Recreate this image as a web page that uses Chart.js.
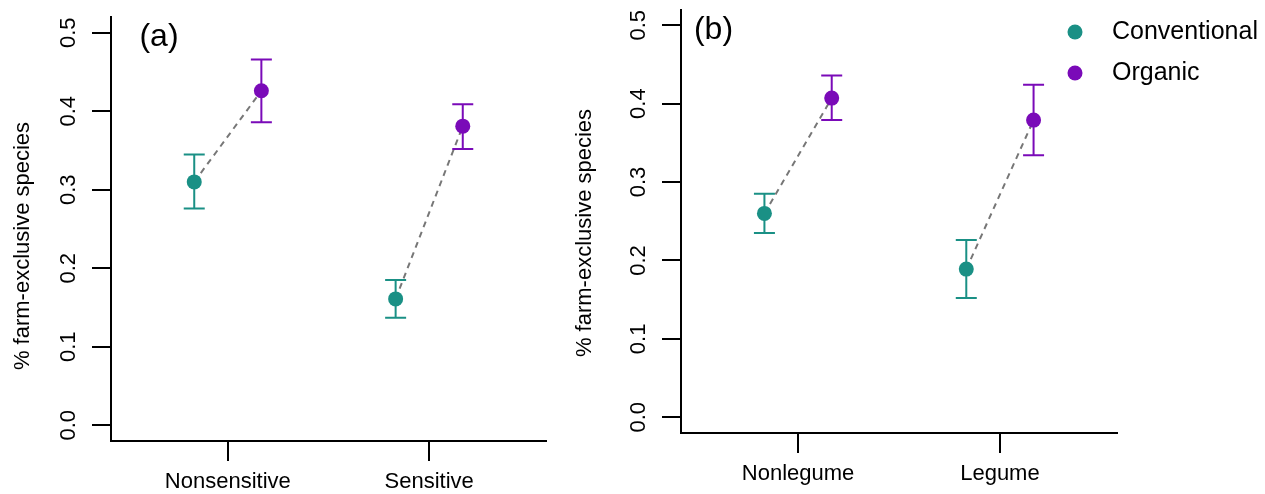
<!DOCTYPE html>
<html>
<head>
<meta charset="utf-8">
<script src="https://cdn.jsdelivr.net/npm/chart.js@4.4.1/dist/chart.umd.min.js"></script>
<style>
  body { margin: 0; background: #fff; }
  #wrap { position: relative; width: 1265px; height: 494px; }
  canvas { position: absolute; top: 0; }
</style>
</head>
<body>
<div id="wrap">
  <canvas id="panelA" width="570" height="494" style="left:0px"></canvas>
  <canvas id="panelB" width="695" height="494" style="left:570px"></canvas>
</div>
<script>
// values
const groups = ['Conventional', 'Organic'];
const yTicks = [0, 0.1, 0.2, 0.3, 0.4, 0.5];

const catsA = ['Nonsensitive', 'Sensitive'];
const convA = [0.310, 0.161];
const convLowA = [0.276, 0.137];
const convHighA = [0.345, 0.185];
const orgA = [0.426, 0.381];
const orgLowA = [0.386, 0.352];
const orgHighA = [0.466, 0.409];

const catsB = ['Nonlegume', 'Legume'];
const convB = [0.260, 0.189];
const convLowB = [0.235, 0.152];
const convHighB = [0.285, 0.226];
const orgB = [0.407, 0.379];
const orgLowB = [0.379, 0.334];
const orgHighB = [0.436, 0.424];

const teal = '#1a9085';
const purple = '#7a0ab8';

Chart.defaults.font.family = '"Liberation Sans", Arial, Helvetica, sans-serif';
Chart.defaults.color = '#000';

// error bars, panel tag, y title, legend
const panelDecor = {
  id: 'panelDecor',
  beforeDatasetDraw(chart, args) {
    const ds = chart.data.datasets[args.index];
    if (!ds.errLow) return;
    const xs = chart.scales.x, ys = chart.scales.y;
    const ctx = chart.ctx;
    ctx.save();
    ctx.strokeStyle = ds.backgroundColor;
    ctx.lineWidth = 2;
    ds.data.forEach((p, i) => {
      const px = xs.getPixelForValue(p.x);
      const lo = ys.getPixelForValue(ds.errLow[i]);
      const hi = ys.getPixelForValue(ds.errHigh[i]);
      ctx.beginPath();
      ctx.moveTo(px, lo); ctx.lineTo(px, hi);
      ctx.moveTo(px - 10.5, lo); ctx.lineTo(px + 10.5, lo);
      ctx.moveTo(px - 10.5, hi); ctx.lineTo(px + 10.5, hi);
      ctx.stroke();
    });
    ctx.restore();
  },
  afterDraw(chart, args, opts) {
    const ctx = chart.ctx;
    ctx.save();
    ctx.fillStyle = '#000';
    ctx.font = '32px "Liberation Sans", Arial, sans-serif';
    ctx.textAlign = 'center';
    ctx.textBaseline = 'middle';
    ctx.fillText(opts.tag, opts.tagX, opts.tagY);

    ctx.save();
    ctx.translate(opts.titleX, opts.titleY);
    ctx.rotate(-Math.PI / 2);
    ctx.font = '22px "Liberation Sans", Arial, sans-serif';
    ctx.fillText('% farm-exclusive species', 0, 0);
    ctx.restore();

    if (opts.legend) {
      const pts = chart.data.datasets.filter(d => d.errLow);
      ctx.font = '25px "Liberation Sans", Arial, sans-serif';
      ctx.textAlign = 'left';
      pts.forEach((d, i) => {
        const y = opts.legendY + i * 41;
        ctx.fillStyle = d.backgroundColor;
        ctx.beginPath();
        ctx.arc(opts.legendX, y, 7.5, 0, Math.PI * 2);
        ctx.fill();
        ctx.fillStyle = '#000';
        ctx.fillText(d.label, opts.legendX + 37, y);
      });
    }
    ctx.restore();
  }
};

function makePanel(id, cats, conv, convLow, convHigh, org, orgLow, orgHigh, look) {
  const dodge = 1 / 6;
  const pos = (i, side) => i + 1 + side * dodge;
  const datasets = [
    { label: groups[0], data: conv.map((v, i) => ({ x: pos(i, -1), y: v })),
      errLow: convLow, errHigh: convHigh, backgroundColor: teal,
      pointRadius: 7.5, borderWidth: 0, order: 1 },
    { label: groups[1], data: org.map((v, i) => ({ x: pos(i, 1), y: v })),
      errLow: orgLow, errHigh: orgHigh, backgroundColor: purple,
      pointRadius: 7.5, borderWidth: 0, order: 1 }
  ];
  cats.forEach((c, i) => {
    datasets.push({
      label: c, data: [{ x: pos(i, -1), y: conv[i] }, { x: pos(i, 1), y: org[i] }],
      showLine: true, borderColor: '#777', borderWidth: 2, borderDash: [6, 5],
      pointRadius: 0, order: 3
    });
  });

  return new Chart(document.getElementById(id), {
    type: 'scatter',
    data: { datasets },
    plugins: [panelDecor],
    options: {
      responsive: false,
      animation: false,
      events: [],
      layout: { padding: { top: look.top, right: look.right, left: 0, bottom: 0 } },
      plugins: { legend: { display: false }, tooltip: { enabled: false }, panelDecor: look },
      scales: {
        x: {
          type: 'linear', min: 0.42, max: 2.58,
          afterBuildTicks: s => { s.ticks = cats.map((c, i) => ({ value: i + 1 })); },
          afterFit: s => { s.height = look.xHeight; s.paddingLeft = 0; s.paddingRight = 0; },
          ticks: { callback: v => cats[v - 1], autoSkip: false, minRotation: 0, maxRotation: 0,
                   padding: 8, font: { size: 22 } },
          grid: { drawOnChartArea: false, tickLength: 20, color: '#000', lineWidth: 2 },
          border: { color: '#000', width: 2 }
        },
        y: {
          min: -0.02, max: 0.52,
          afterBuildTicks: s => { s.ticks = yTicks.map(v => ({ value: v })); },
          afterFit: s => { s.width = 111; s.paddingTop = 0; s.paddingBottom = 0; },
          ticks: { callback: v => v.toFixed(1), minRotation: 90, maxRotation: 90, crossAlign: 'center',
                   padding: 8, font: { size: 22 } },
          grid: { drawOnChartArea: false, tickLength: 19, color: '#000', lineWidth: 2 },
          border: { color: '#000', width: 2 }
        }
      }
    }
  });
}

makePanel('panelA', catsA, convA, convLowA, convHighA, orgA, orgLowA, orgHighA,
  { top: 17, right: 24, xHeight: 53, tag: '(a)', tagX: 159, tagY: 37,
    titleX: 22.5, titleY: 246, legend: false });

makePanel('panelB', catsB, convB, convLowB, convHighB, orgB, orgLowB, orgHighB,
  { top: 9.5, right: 148, xHeight: 61, tag: '(b)', tagX: 143.5, tagY: 30,
    titleX: 14.5, titleY: 233, legend: true, legendX: 505, legendY: 32 });
</script>
</body>
</html>
